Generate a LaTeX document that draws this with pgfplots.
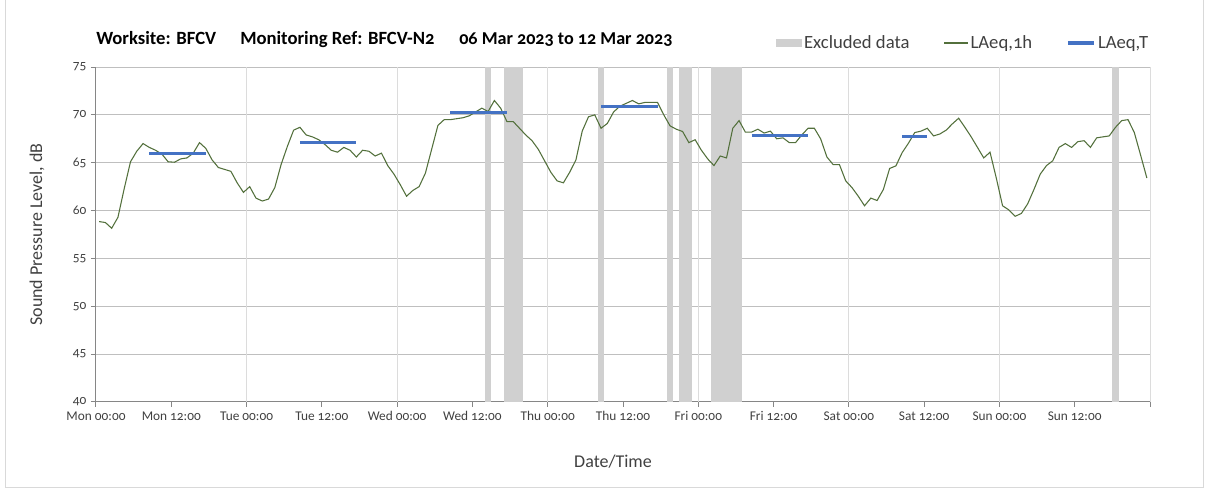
\documentclass[border=0pt]{standalone}
\usepackage{fontspec}
\setmainfont{Carlito}[Numbers=OldStyle]
\usepackage{pgfplots}
\usepackage{pgfplotstable}
\pgfplotsset{compat=1.18}

\definecolor{lgreen}{RGB}{83,112,60}
\definecolor{lblue}{RGB}{68,114,196}
\definecolor{lband}{RGB}{208,208,208}
\definecolor{hgrid}{RGB}{191,191,191}
\definecolor{vgrid}{RGB}{220,220,220}
\definecolor{axc}{RGB}{134,134,134}
\definecolor{txt}{RGB}{64,64,64}

\pgfplotstableread{
h L
0.5 58.85
1.5 58.75
2.5 58.15
3.5 59.3
4.5 62.3
5.5 65.1
6.5 66.2
7.5 67.0
8.5 66.6
9.5 66.3
10.5 65.9
11.5 65.1
12.5 65.05
13.5 65.4
14.5 65.5
15.5 66.0
16.5 67.1
17.5 66.5
18.5 65.3
19.5 64.5
20.5 64.3
21.5 64.1
22.5 62.9
23.5 61.9
24.5 62.5
25.5 61.3
26.5 61.0
27.5 61.2
28.5 62.4
29.5 64.8
30.5 66.7
31.5 68.4
32.5 68.7
33.5 67.9
34.5 67.7
35.5 67.4
36.5 66.9
37.5 66.3
38.5 66.1
39.5 66.6
40.5 66.3
41.5 65.6
42.5 66.3
43.5 66.2
44.5 65.7
45.5 66.0
46.5 64.7
47.5 63.8
48.5 62.7
49.5 61.5
50.5 62.1
51.5 62.5
52.5 63.9
53.5 66.4
54.5 68.9
55.5 69.5
56.5 69.5
57.5 69.6
58.5 69.7
59.5 69.9
60.5 70.3
61.5 70.7
62.5 70.35
63.5 71.5
64.5 70.7
65.5 69.3
66.5 69.3
67.5 68.6
68.5 67.9
69.5 67.3
70.5 66.4
71.5 65.2
72.5 64.0
73.5 63.1
74.5 62.9
75.5 64.0
76.5 65.3
77.5 68.3
78.5 69.8
79.5 70.0
80.5 68.6
81.5 69.1
82.5 70.3
83.5 70.9
84.5 71.2
85.5 71.5
86.5 71.15
87.5 71.3
88.5 71.3
89.5 71.3
90.5 70.0
91.5 68.85
92.5 68.5
93.5 68.26
94.5 67.1
95.5 67.4
96.5 66.3
97.5 65.4
98.5 64.7
99.5 65.7
100.5 65.5
101.5 68.6
102.5 69.4
103.5 68.2
104.5 68.2
105.5 68.5
106.5 68.1
107.5 68.3
108.5 67.5
109.5 67.6
110.5 67.1
111.5 67.1
112.5 67.9
113.5 68.6
114.5 68.6
115.5 67.5
116.5 65.6
117.5 64.8
118.5 64.8
119.5 63.1
120.5 62.4
121.5 61.5
122.5 60.5
123.5 61.3
124.5 61.05
125.5 62.2
126.5 64.4
127.5 64.67
128.5 66.06
129.5 67.04
130.5 68.15
131.5 68.3
132.5 68.6
133.5 67.8
134.5 68.0
135.5 68.4
136.5 69.06
137.5 69.65
138.5 68.7
139.5 67.7
140.5 66.6
141.5 65.5
142.5 66.1
143.5 63.4
144.5 60.5
145.5 60.07
146.5 59.4
147.5 59.7
148.5 60.7
149.5 62.2
150.5 63.8
151.5 64.7
152.5 65.2
153.5 66.6
154.5 67.0
155.5 66.6
156.5 67.2
157.5 67.3
158.5 66.6
159.5 67.6
160.5 67.7
161.5 67.8
162.5 68.7
163.5 69.4
164.5 69.5
165.5 68.15
166.5 65.8
167.5 63.4
}\hourly

\pgfplotstableread{
h L
8.5 66.0
17.5 66.0
nan nan
32.5 67.07
41.5 67.07
nan nan
56.5 70.2
65.5 70.2
nan nan
80.5 70.9
89.5 70.9
nan nan
104.5 67.84
113.5 67.84
nan nan
128.5 67.74
132.5 67.74
}\period

\begin{document}
\begin{tikzpicture}[x=0.75pt,y=0.75pt]
\useasboundingbox (0,0) rectangle (1208,493);
\draw[gray!30, line width=0.75pt] (5,493) -- (5,5) -- (1203,5) -- (1203,493);
\node[anchor=base west, inner sep=0pt, font=\fontsize{14}{16}\selectfont\bfseries] at (96,448) {Worksite: BFCV};
\node[anchor=base west, inner sep=0pt, font=\fontsize{14}{16}\selectfont\bfseries] at (240,448) {Monitoring Ref: BFCV-N2};
\node[anchor=base west, inner sep=0pt, font=\fontsize{13.6}{16}\selectfont\bfseries] at (459,448) {06 Mar 2023 to 12 Mar 2023};
\begin{axis}[
  at={(72pt,68.25pt)}, anchor=south west,
  scale only axis, width=790.5pt, height=251.25pt,
  xmin=0, xmax=168, ymin=40, ymax=75,
  axis x line*=bottom, axis y line*=left,
  axis line style={axc, line width=0.75pt},
  xtick={0,12,...,168},
  xticklabels={Mon 00:00,Mon 12:00,Tue 00:00,Tue 12:00,Wed 00:00,Wed 12:00,Thu 00:00,Thu 12:00,Fri 00:00,Fri 12:00,Sat 00:00,Sat 12:00,Sun 00:00,Sun 12:00,{}},
  ytick={40,45,...,75},
  tick align=outside, major tick length=3.75pt,
  tick style={axc, line width=0.75pt},
  ymajorgrids, major grid style={hgrid, line width=0.75pt},
  extra x ticks={24,48,72,96,120,144,168},
  extra x tick labels={},
  extra x tick style={grid=major, major grid style={vgrid, line width=0.75pt}, major tick length=0pt},
  ticklabel style={font=\fontsize{10}{12}\selectfont, text=txt},
  /pgf/number format/assume math mode=true,
  xlabel={Date/Time}, ylabel={Sound Pressure Level, dB},
  xlabel style={at={(axis description cs:0.4905,-0.179)}, anchor=center, font=\fontsize{13.5}{15}\selectfont, text=txt},
  ylabel style={at={(axis description cs:-0.056,0.5)}, anchor=center, font=\fontsize{13.5}{15}\selectfont, text=txt},
  legend style={at={(axis description cs:0.645,1.0716)}, anchor=west, draw=none, fill=none, inner sep=0pt,
    font=\fontsize{14}{16}\selectfont, text=txt,
    nodes={inner xsep=1.5pt, inner ysep=0pt},
    /tikz/every even column/.append style={column sep=24pt}},
  legend columns=3,
  unbounded coords=jump,
]
\addplot[fill=lband, draw=none, legend image code/.code={\fill[lband] (0pt,-3.1pt) rectangle (19.5pt,3.1pt);}]
  coordinates {(62,40) (62,75) (63,75) (63,40)} -- cycle;
\addlegendentry{Excluded data}
\addplot[fill=lband, draw=none, forget plot] coordinates {(65,40) (65,75) (68,75) (68,40)} -- cycle;
\addplot[fill=lband, draw=none, forget plot] coordinates {(80,40) (80,75) (81,75) (81,40)} -- cycle;
\addplot[fill=lband, draw=none, forget plot] coordinates {(91,40) (91,75) (92,75) (92,40)} -- cycle;
\addplot[fill=lband, draw=none, forget plot] coordinates {(93,40) (93,75) (95,75) (95,40)} -- cycle;
\addplot[fill=lband, draw=none, forget plot] coordinates {(98,40) (98,75) (103,75) (103,40)} -- cycle;
\addplot[fill=lband, draw=none, forget plot] coordinates {(162,40) (162,75) (163,75) (163,40)} -- cycle;
\addplot[lgreen, line width=0.8pt, mark=none, legend image code/.code={\draw[lgreen, line width=0.8pt] (0pt,0pt) -- (18pt,0pt);}] table[x=h, y=L] {\hourly};
\addlegendentry{LAeq,1h}
\addplot[lblue, line width=2.3pt, mark=none, legend image code/.code={\draw[lblue, line width=2.3pt] (0pt,0pt) -- (20pt,0pt);}] table[x=h, y=L] {\period};
\addlegendentry{LAeq,T}
\end{axis}
\end{tikzpicture}
\end{document}
